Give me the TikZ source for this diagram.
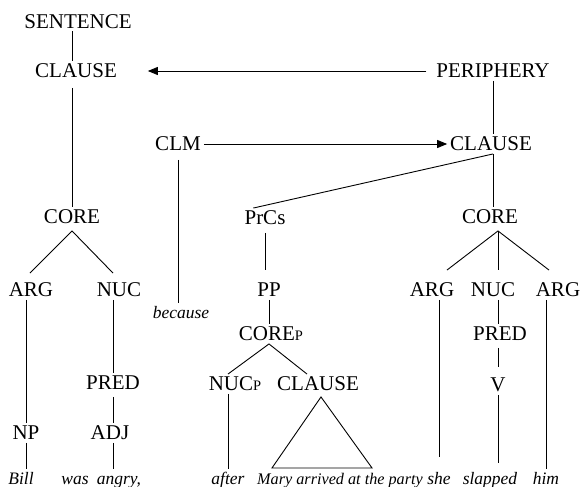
\documentclass[tikz,border=0pt]{standalone}
\usepackage{fontspec}
\setmainfont{Liberation Serif}
\newfontfamily\treefont{Liberation Serif}
\usetikzlibrary{arrows.meta,calc}
\newcommand{\subcap}[1]{{\fontsize{14.5}{14.5}\selectfont #1}}
\begin{document}
\begin{tikzpicture}[x=1pt,y=-1pt,
  cat/.style={inner sep=0pt,outer sep=3pt,text height=13.9pt,text depth=0pt,
    font=\treefont\fontsize{21}{24}\selectfont},
  word/.style={inner sep=0pt,outer sep=3pt,anchor=base,text height=12pt,text depth=4pt,
    font=\treefont\fontsize{17.5}{20}\selectfont\itshape},
  edge/.style={line width=0.9pt},
  link/.style={line width=0.9pt,-{Triangle[length=10pt,width=8pt]}}]
\useasboundingbox (0,0) rectangle (581,487);

% category labels
\node[cat] (sent)    at (78,21.5) {SENTENCE};
\node[cat] (clauseL) at (76,71)   {CLAUSE};
\node[cat] (peri)    at (493,71)  {PERIPHERY};
\node[cat] (clm)     at (178,144) {CLM};
\node[cat] (clauseR) at (491,144) {CLAUSE};
\node[cat] (coreL)   at (72,217)  {CORE};
\node[cat] (prcs)    at (265,218) {PrCs};
\node[cat] (coreR)   at (490,217) {CORE};
\node[cat] (argL)    at (31,290)  {ARG};
\node[cat] (nucL)    at (119,290) {NUC};
\node[cat] (pp)      at (269,290) {PP};
\node[cat] (argR)    at (432,290) {ARG};
\node[cat] (nucR)    at (493,290) {NUC};
\node[cat] (argRR)   at (558,290) {ARG};
\node[cat] (corep)   at (271,334) {CORE\subcap{P}};
\node[cat] (predR)   at (500,334) {PRED};
\node[cat] (nucp)    at (235,384) {NUC\subcap{P}};
\node[cat] (clauseM) at (318,384) {CLAUSE};
\node[cat] (v)       at (498,385) {V};
\node[cat] (predL)   at (113,383) {PRED};
\node[cat] (np)      at (26,433)  {NP};
\node[cat] (adj)     at (110,433) {ADJ};

% words
\node[word] (because) at (181,318) {because};
\node[word] (bill)    at (21,484)  {Bill};
\node[word] (was)     at (75,484)  {was};
\node[word] (angry)   at (119,484) {angry,};
\node[word] (after)   at (228,484) {after};
\node[word,font=\treefont\fontsize{16.2}{20}\selectfont\itshape] (mary) at (340,484) {Mary arrived at the party};
\node[word] (she)     at (439,484) {she};
\node[word] (slapped) at (490,484) {slapped};
\node[word] (him)     at (546,484) {him};

% arrows
\draw[link,shorten <=7pt,shorten >=28pt] (peri.west) -- (clauseL.east);
\draw[link] (clm.east) -- (clauseR.west);

% main clause
\draw[edge] (sent.south -| coreL) -- (clauseL.north -| coreL);
\draw[edge,shorten <=7pt] (clauseL.south -| coreL) -- (coreL.north);
\draw[edge] ($(argL.north)+(-1,-7)$) -- ($(coreL.south)+(0,4)$)
            -- ($(nucL.north -| predL)+(0,-7)$);
\draw[edge] (argL.south -| np) -- (np.north);
\draw[edge] (np.south) -- (np |- bill.north);
\draw[edge] (nucL.south -| predL) -- (predL.north);
\draw[edge,shorten <=4pt] (predL.south) -- (predL |- adj.north);
\draw[edge] (predL |- adj.south) -- (predL |- angry.north);

% clause-linkage marker
\draw[edge,shorten <=6pt] (clm.south) -- (clm |- because.north);

% peripheral clause
\draw[edge] (peri.south) -- (peri |- clauseR.north);
\draw[edge] (peri |- clauseR.south) -- (peri |- coreR.north);
\draw[edge] (peri |- clauseR.south) -- ($(prcs.north)!0.5!(prcs.north west)$);
\draw[edge,shorten <=5pt,shorten >=10pt] (prcs.south) -- (prcs |- pp.north);
\draw[edge] (pp.south) -- (pp |- corep.north);
\draw[edge] (nucp.north -| after) -- (corep.south -| pp) -- ($(clauseM.north)+(-11,0)$);
\draw[edge] (after |- nucp.south) -- (after.north);
\draw[edge] ($(clauseM.south)+(3,3)$) -- ($(clauseM.south)+(-46,74)$)
            -- ($(clauseM.south)+(54,74)$) -- cycle;

% core of the peripheral clause
\draw[edge] ($(argR.north)+(15,-10)$) -- ($(coreR.south -| v)+(0,4)$)
            -- ($(argRR.north)+(-9,-10)$);
\draw[edge] ($(coreR.south -| v)+(0,4)$) -- ($(nucR.north -| v)+(0,-10)$);
\draw[edge,shorten >=12pt] (she |- argR.south) -- (she.north);
\draw[edge] (v |- nucR.south) -- (v |- predR.north);
\draw[edge,shorten <=4pt,shorten >=8pt] (v |- predR.south) -- (v.north);
\draw[edge,shorten >=6pt] (v.south) -- (v |- slapped.north);
\draw[edge] (him |- argRR.south) -- (him.north);
\end{tikzpicture}
\end{document}
